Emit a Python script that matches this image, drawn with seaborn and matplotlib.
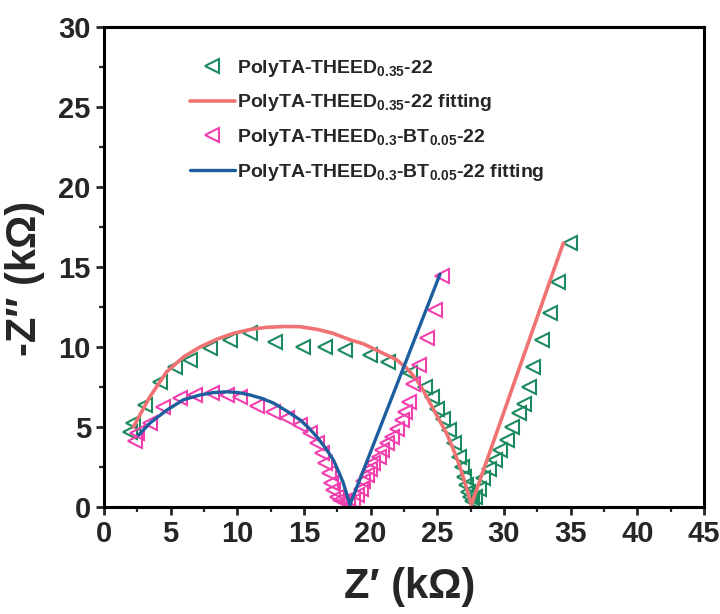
import matplotlib
matplotlib.use("Agg")
import matplotlib.pyplot as plt
import seaborn as sns
import pandas as pd
from matplotlib.ticker import MultipleLocator

# ---------------- data ----------------
green_x = [1.95, 2.2, 3.1, 4.2, 5.3, 6.45, 7.95, 9.45, 10.95, 12.85, 14.9, 16.55, 18.1,
           19.95, 21.3, 22.95, 24.05, 24.6, 25.0, 25.45, 25.9, 26.25, 26.6, 26.85, 27.0,
           27.15, 27.3, 27.45, 27.6, 27.8, 28.1, 28.45, 28.85, 29.3, 29.7, 30.2, 30.6,
           31.1, 31.5, 31.85, 32.2, 32.85, 33.45, 34.05, 34.95]
green_y = [4.7, 5.25, 6.4, 7.8, 8.75, 9.2, 9.95, 10.45, 10.9, 10.3, 10.0, 10.0, 9.8,
           9.5, 9.05, 8.4, 7.5, 6.9, 6.1, 5.5, 4.8, 4.0, 3.15, 2.5, 1.9,
           1.4, 0.95, 0.65, 0.4, 0.6, 1.15, 1.8, 2.4, 2.95, 3.55, 4.2, 5.0,
           5.85, 6.45, 7.5, 8.75, 10.45, 12.15, 14.05, 16.5]

pink_x = [2.3, 2.5, 3.45, 4.45, 5.7, 6.85, 8.1, 9.2, 10.2, 11.45, 12.7, 13.7, 14.7,
          15.45, 15.95, 16.35, 16.6, 16.85, 17.0, 17.2, 17.45, 17.7, 18.0, 18.3, 18.65,
          19.0, 19.3, 19.45, 19.7, 19.95, 20.2, 20.6, 20.85, 21.2, 21.6, 21.95, 22.35,
          22.6, 22.85, 23.2, 23.6, 24.2, 24.85, 25.35]
pink_y = [4.1, 4.6, 5.25, 6.25, 6.8, 7.0, 7.1, 7.0, 6.9, 6.3, 5.95, 5.55, 5.15,
          4.6, 4.0, 3.35, 2.75, 2.1, 1.5, 1.05, 0.65, 0.45, 0.4, 0.35, 0.4,
          0.75, 1.15, 1.6, 2.0, 2.4, 2.75, 3.15, 3.55, 4.0, 4.4, 4.9, 5.45,
          5.95, 6.55, 7.7, 8.9, 10.55, 12.3, 14.45]

red_fit_x = [2.2, 3.45, 4.7, 6.0, 7.2, 8.5, 9.7, 11.0, 12.2, 13.5, 14.7, 16.0, 17.2,
             18.45, 19.45, 20.7, 21.95, 22.8, 23.45, 24.0, 24.45, 25.1, 25.7, 26.2,
             26.7, 27.15, 27.55, 34.45]
red_fit_y = [5.0, 6.9, 8.45, 9.4, 10.0, 10.5, 10.85, 11.1, 11.23, 11.28, 11.27, 11.1, 10.85,
             10.45, 10.2, 9.7, 9.2, 8.6, 7.95, 7.2, 6.5, 5.5, 4.6, 3.6,
             2.5, 1.3, 0.15, 16.5]

blue_fit_x = [2.6, 3.45, 4.7, 5.95, 7.2, 8.2, 9.2, 10.1, 10.95, 11.8, 12.7, 13.7, 14.7,
              15.35, 15.95, 16.6, 17.2, 17.6, 17.95, 18.2, 18.45, 25.2]
blue_fit_y = [4.5, 5.25, 6.05, 6.7, 7.0, 7.15, 7.2, 7.15, 7.0, 6.8, 6.5, 6.0, 5.45,
              4.95, 4.4, 3.7, 2.95, 2.2, 1.5, 0.8, 0.15, 14.55]

labels = [r"PolyTA-THEED$_{0.35}$-22",
          r"PolyTA-THEED$_{0.35}$-22 fitting",
          r"PolyTA-THEED$_{0.3}$-BT$_{0.05}$-22",
          r"PolyTA-THEED$_{0.3}$-BT$_{0.05}$-22 fitting"]

c_green = "#1b8a5e"
c_red = "#f07272"
c_pink = "#f23fae"
c_blue = "#1c5e9e"

# ---------------- style ----------------
sns.set_theme(style="ticks")
plt.rcParams["font.family"] = ["Liberation Sans", "DejaVu Sans"]
plt.rcParams["font.weight"] = "bold"
plt.rcParams["mathtext.fontset"] = "custom"
plt.rcParams["mathtext.rm"] = "Liberation Sans:bold"
plt.rcParams["mathtext.bf"] = "Liberation Sans:bold"
plt.rcParams["mathtext.it"] = "Liberation Sans:bold"
plt.rcParams["mathtext.default"] = "regular"

fig = plt.figure(figsize=(7.2, 6.14), dpi=100)
ax = fig.add_axes([104 / 720, 107 / 614, 600 / 720, 480 / 614])

g_df = pd.DataFrame({"x": green_x, "y": green_y})
p_df = pd.DataFrame({"x": pink_x, "y": pink_y})
r_df = pd.DataFrame({"x": red_fit_x, "y": red_fit_y})
b_df = pd.DataFrame({"x": blue_fit_x, "y": blue_fit_y})

sns.lineplot(data=g_df, x="x", y="y", sort=False, ax=ax, linestyle="none",
             marker="<", markersize=10.5, markerfacecolor="none",
             markeredgecolor=c_green, markeredgewidth=1.5, color=c_green,
             label=labels[0])
sns.lineplot(data=r_df, x="x", y="y", sort=False, ax=ax, color=c_red,
             linewidth=2.6, label=labels[1])
sns.lineplot(data=p_df, x="x", y="y", sort=False, ax=ax, linestyle="none",
             marker="<", markersize=10.5, markerfacecolor="none",
             markeredgecolor=c_pink, markeredgewidth=1.5, color=c_pink,
             label=labels[2])
sns.lineplot(data=b_df, x="x", y="y", sort=False, ax=ax, color=c_blue,
             linewidth=2.4, label=labels[3])

ax.set_xlim(0, 45)
ax.set_ylim(0, 30)
ax.xaxis.set_major_locator(MultipleLocator(5))
ax.xaxis.set_minor_locator(MultipleLocator(2.5))
ax.yaxis.set_major_locator(MultipleLocator(5))
ax.yaxis.set_minor_locator(MultipleLocator(2.5))
ax.tick_params(which="major", direction="out", length=6, width=2, top=False, right=False)
ax.tick_params(which="minor", direction="out", length=3.5, width=1.6, top=False, right=False)
for sp in ax.spines.values():
    sp.set_linewidth(2.2)
    sp.set_color("black")

for lab in ax.get_xticklabels() + ax.get_yticklabels():
    lab.set_fontfamily(["Liberation Sans", "DejaVu Sans"])
    lab.set_fontsize(21)
    lab.set_fontweight("bold")

ax.set_xlabel("Z\u2032 (k\u03a9)", fontsize=30, fontweight="bold",
              family=["Liberation Sans", "DejaVu Sans"])
ax.set_ylabel("-Z\u2033 (k\u03a9)", fontsize=30, fontweight="bold",
              family=["Liberation Sans", "DejaVu Sans"])
ax.xaxis.set_label_coords(0.51, -0.125)
ax.yaxis.set_label_coords(-0.098, 0.477)

leg = ax.legend(loc="upper left", bbox_to_anchor=(0.13, 0.952), frameon=False,
                prop={"family": ["Liberation Sans", "DejaVu Sans"],
                      "weight": "bold", "size": 14},
                handlelength=2.3, handletextpad=0.15, labelspacing=0.7,
                borderaxespad=0)

fig.savefig("out.png", dpi=100)
